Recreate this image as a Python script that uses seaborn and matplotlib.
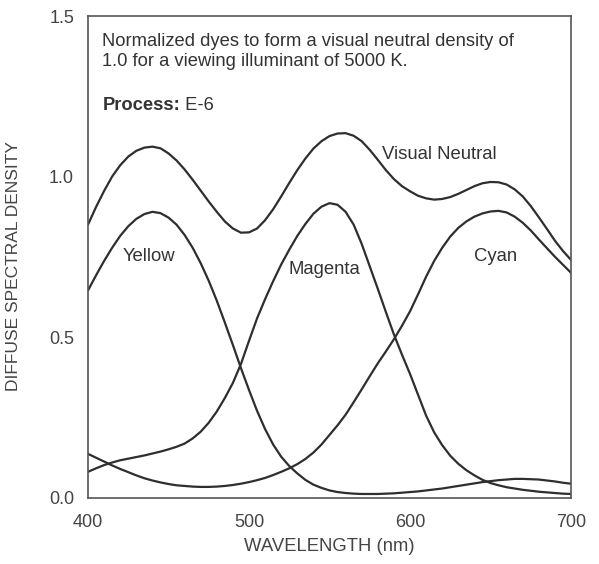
import matplotlib
matplotlib.use("Agg")
import matplotlib.pyplot as plt
import seaborn as sns
import pandas as pd

# ---- data (every 5 nm) ----
wavelength = list(range(400, 701, 5))

visual_neutral = [0.850, 0.905, 0.955, 1.000, 1.035, 1.062, 1.080, 1.090, 1.093, 1.088,
                  1.072, 1.050, 1.022, 0.990, 0.956, 0.922, 0.890, 0.860, 0.838, 0.825,
                  0.826, 0.838, 0.864, 0.898, 0.938, 0.980, 1.020, 1.056, 1.087, 1.110,
                  1.126, 1.134, 1.135, 1.127, 1.110, 1.083, 1.052, 1.020, 0.992, 0.970,
                  0.954, 0.940, 0.932, 0.928, 0.930, 0.936, 0.946, 0.958, 0.970, 0.979,
                  0.983, 0.982, 0.975, 0.960, 0.938, 0.908, 0.873, 0.837, 0.800, 0.768,
                  0.740]

yellow = [0.645, 0.692, 0.737, 0.778, 0.815, 0.845, 0.868, 0.883, 0.890, 0.886,
          0.872, 0.850, 0.818, 0.778, 0.730, 0.675, 0.613, 0.545, 0.475, 0.403,
          0.335, 0.270, 0.213, 0.165, 0.127, 0.098, 0.075, 0.055, 0.040, 0.030,
          0.022, 0.017, 0.014, 0.012, 0.011, 0.011, 0.011, 0.012, 0.013, 0.015,
          0.017, 0.019, 0.022, 0.025, 0.028, 0.032, 0.036, 0.040, 0.044, 0.048,
          0.051, 0.054, 0.056, 0.058, 0.058, 0.057, 0.056, 0.053, 0.050, 0.046,
          0.043]

magenta = [0.080, 0.091, 0.101, 0.109, 0.116, 0.121, 0.126, 0.131, 0.137, 0.143,
           0.150, 0.158, 0.168, 0.184, 0.205, 0.233, 0.268, 0.310, 0.357, 0.416,
           0.488, 0.558, 0.618, 0.674, 0.726, 0.772, 0.815, 0.852, 0.884, 0.906,
           0.917, 0.912, 0.890, 0.850, 0.790, 0.720, 0.650, 0.578, 0.508, 0.445,
           0.385, 0.320, 0.255, 0.203, 0.163, 0.130, 0.105, 0.085, 0.069, 0.055,
           0.045, 0.038, 0.032, 0.028, 0.024, 0.021, 0.018, 0.016, 0.014, 0.012,
           0.011]

cyan = [0.136, 0.124, 0.112, 0.100, 0.089, 0.079, 0.069, 0.060, 0.053, 0.047,
        0.042, 0.038, 0.036, 0.034, 0.033, 0.033, 0.034, 0.036, 0.039, 0.043,
        0.048, 0.054, 0.061, 0.070, 0.080, 0.091, 0.104, 0.120, 0.140, 0.165,
        0.195, 0.225, 0.258, 0.297, 0.337, 0.378, 0.418, 0.455, 0.493, 0.535,
        0.580, 0.633, 0.688, 0.737, 0.778, 0.813, 0.840, 0.860, 0.875, 0.885,
        0.891, 0.893, 0.888, 0.875, 0.856, 0.832, 0.804, 0.777, 0.750, 0.725,
        0.700]

series_names = ["Visual Neutral", "Yellow", "Magenta", "Cyan"]
series_values = [visual_neutral, yellow, magenta, cyan]

# label anchor positions (data coords) for the curve names
label_pos = {"Visual Neutral": (618, 1.07), "Yellow": (438, 0.75),
             "Magenta": (547, 0.71), "Cyan": (653, 0.75)}

x_ticks = [400, 500, 600, 700]
y_ticks = [0.0, 0.5, 1.0, 1.5]

# ---- build tidy table ----
rows = []
for name, vals in zip(series_names, series_values):
    for w, v in zip(wavelength, vals):
        rows.append({"wavelength": w, "density": v, "dye": name})
df = pd.DataFrame(rows)

sns.set_style("white")
plt.rcParams["font.family"] = ["Liberation Sans", "DejaVu Sans"]

line_color = "#2e2e2e"
text_color = "#333333"
axis_color = "#555555"

fig = plt.figure(figsize=(5.99, 5.64), dpi=100)
ax = fig.add_axes([0.1469, 0.1179, 0.8064, 0.8537])

sns.lineplot(data=df, x="wavelength", y="density", hue="dye",
             palette={n: line_color for n in series_names},
             linewidth=1.6, legend=False, ax=ax, estimator=None, sort=True)

ax.set_xlim(400, 700)
ax.set_ylim(0, 1.5)
ax.set_xticks(x_ticks)
ax.set_xticklabels([str(t) for t in x_ticks])
ax.set_yticks(y_ticks)
ax.set_yticklabels([f"{t:.1f}" for t in y_ticks])
ax.tick_params(direction="in", length=7, width=1.0,
               colors=axis_color, labelsize=13, labelcolor="#444444")
ax.tick_params(axis="x", pad=12)
ax.tick_params(axis="y", pad=10)

for sp in ax.spines.values():
    sp.set_color(axis_color)
    sp.set_linewidth(1.2)

ax.set_xlabel("WAVELENGTH (nm)", fontsize=13.3, color="#444444")
ax.set_ylabel("DIFFUSE SPECTRAL DENSITY", fontsize=12.5, color="#444444")
ax.xaxis.set_label_coords(0.5, -0.085)
ax.yaxis.set_label_coords(-0.138, 0.48)

for name in series_names:
    x, y = label_pos[name]
    ax.text(x, y, name, ha="center", va="center", fontsize=13.3, color=text_color)

ax.text(409, 1.448, "Normalized dyes to form a visual neutral density of\n1.0 for a viewing illuminant of 5000 K.",
        ha="left", va="top", fontsize=13.2, color=text_color, linespacing=1.25)
t1 = ax.text(409, 1.22, "Process:", ha="left", va="center", fontsize=13.2,
             fontweight="bold", color=text_color)
ax.annotate(" E-6", xy=(1, 0.5), xycoords=t1, ha="left", va="center",
            fontsize=13.2, color=text_color)

ax.grid(False)
fig.savefig("out.png", dpi=100)
